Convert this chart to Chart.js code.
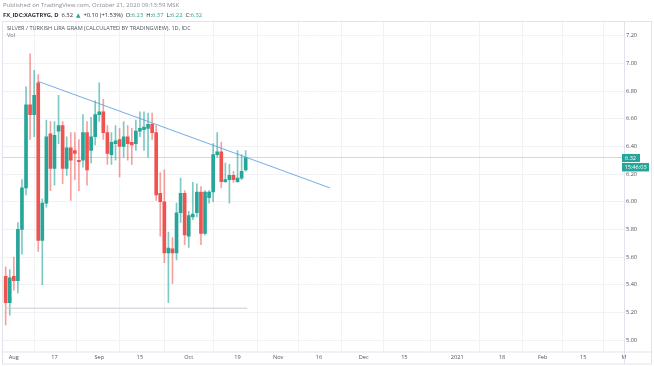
<!DOCTYPE html>
<html>
<head>
<meta charset="utf-8">
<script src="https://cdn.jsdelivr.net/npm/chart.js@4/dist/chart.umd.min.js"></script>
<style>
  html, body { margin: 0; padding: 0; background: #ffffff; }
  #wrap { width: 654px; height: 366px; position: relative; }
  canvas { display: block; }
</style>
</head>
<body>
<div id="wrap"><canvas id="c" width="654" height="366"></canvas></div>
<script>
// ---- DATA ----
// trading days, index 0..59
const dates = [
  '2020-07-30','2020-07-31',
  '2020-08-03','2020-08-04','2020-08-05','2020-08-06','2020-08-07',
  '2020-08-10','2020-08-11','2020-08-12','2020-08-13','2020-08-14',
  '2020-08-17','2020-08-18','2020-08-19','2020-08-20','2020-08-21',
  '2020-08-24','2020-08-25','2020-08-26','2020-08-27','2020-08-28',
  '2020-08-31','2020-09-01','2020-09-02','2020-09-03','2020-09-04',
  '2020-09-07','2020-09-08','2020-09-09','2020-09-10','2020-09-11',
  '2020-09-14','2020-09-15','2020-09-16','2020-09-17','2020-09-18',
  '2020-09-21','2020-09-22','2020-09-23','2020-09-24','2020-09-25',
  '2020-09-28','2020-09-29','2020-09-30','2020-10-01','2020-10-02',
  '2020-10-05','2020-10-06','2020-10-07','2020-10-08','2020-10-09',
  '2020-10-12','2020-10-13','2020-10-14','2020-10-15','2020-10-16',
  '2020-10-19','2020-10-20','2020-10-21'
];
const opens  = [5.46,5.27,5.46,5.43,5.80,6.10,6.70,6.63,6.86,5.72,
                5.99,6.49,6.24,6.51,6.55,6.24,6.39,6.37,6.30,6.30,
                6.50,6.37,6.47,6.63,6.65,6.50,6.34,6.42,6.45,6.40,
                6.47,6.43,6.42,6.51,6.52,6.53,6.56,6.50,6.06,6.00,
                5.63,5.66,5.63,5.92,6.06,5.75,5.89,5.92,6.07,5.77,
                6.03,6.07,6.34,6.36,6.145,6.16,6.19,6.145,6.17,6.23];
const highs  = [5.53,5.51,5.60,5.85,6.16,6.83,7.07,6.95,6.92,6.02,
                6.59,6.58,6.58,6.77,6.58,6.47,6.50,6.50,6.45,6.63,
                6.58,6.61,6.73,6.86,6.74,6.55,6.50,6.55,6.53,6.58,
                6.55,6.53,6.59,6.65,6.65,6.64,6.64,6.55,6.21,6.23,
                5.78,5.74,5.99,6.17,6.08,5.93,6.14,6.13,6.11,6.08,
                6.08,6.42,6.50,6.43,6.28,6.27,6.22,6.37,6.34,6.37];
const lows   = [5.11,5.18,5.36,5.34,5.62,6.05,6.45,6.47,5.64,5.40,
                5.96,6.08,6.12,6.42,6.13,6.19,6.01,6.16,6.08,6.25,
                6.12,6.28,6.41,6.58,6.45,6.27,6.27,6.30,6.18,6.32,
                6.30,6.27,6.37,6.47,6.37,6.32,6.45,6.01,5.75,5.56,
                5.27,5.41,5.58,5.85,5.69,5.67,5.87,5.89,5.69,5.76,
                5.99,6.00,6.32,6.10,6.14,5.99,6.14,6.14,6.16,6.22];
const closes = [5.27,5.45,5.43,5.80,6.10,6.70,6.63,6.77,5.72,5.99,
                6.47,6.24,6.48,6.55,6.24,6.39,6.30,6.35,6.29,6.50,
                6.23,6.47,6.63,6.65,6.50,6.35,6.43,6.44,6.40,6.47,
                6.42,6.41,6.51,6.53,6.54,6.56,6.50,6.05,6.00,5.63,
                5.665,5.63,5.92,6.06,5.76,5.90,5.91,6.07,5.77,6.07,
                6.07,6.34,6.36,6.145,6.16,6.19,6.16,6.17,6.22,6.32];

// drawings (bar index, price)
const trendLine   = [{x: 8, y: 6.87}, {x: 79.7, y: 6.10}];
const supportLine = [{x: -0.1, y: 5.23}, {x: 59.4, y: 5.23}];

// axis ticks
const xTickIndex  = [2, 12, 23, 33, 45, 57, 67, 77, 88, 98, 111, 122, 132, 142, 152];
const xTickLabels = ['Aug','17','Sep','15','Oct','19','Nov','16','Dec','15','2021','18','Feb','15','M'];
const yTickValues = [5.00,5.20,5.40,5.60,5.80,6.00,6.20,6.40,6.60,6.80,7.00,7.20];
const yTickLabels = ['5.00','5.20','5.40','5.60','5.80','6.00','6.20','6.40','6.60','6.80','7.00','7.20'];

// header texts
const publishedText = 'Published on TradingView.com, October 21, 2020 09:13:59 MSK';
const symbolText = 'FX_IDC:XAGTRYG, D';
const changeText = '+0.10 (+1.53%)';
const titleText = 'SILVER / TURKISH LIRA GRAM (CALCULATED BY TRADINGVIEW), 1D, IDC';
const volText = 'Vol';
const countdownText = '15:46:03';

// ---- STYLE ----
const UP = '#26a69a', DOWN = '#ef5350';
const UP_W = 'rgba(38,166,154,0.6)', DOWN_W = 'rgba(239,83,80,0.55)';
const FONT = '"Open Sans", "DejaVu Sans", sans-serif';
const last = closes.length - 1;

const isUp = i => closes[i] >= opens[i];

const overlay = {
  id: 'overlay',
  beforeDatasetsDraw(chart) {
    const {ctx, chartArea: a, scales: {y}} = chart;
    const py = Math.round(y.getPixelForValue(closes[last])) + 0.5;
    ctx.save();
    ctx.strokeStyle = 'rgba(38,166,154,0.3)';
    ctx.lineWidth = 1;
    ctx.beginPath(); ctx.moveTo(a.left, py); ctx.lineTo(a.right, py); ctx.stroke();
    ctx.restore();
  },
  afterDraw(chart) {
    const {ctx, chartArea: a, scales: {y}} = chart;
    ctx.save();
    // frame
    ctx.strokeStyle = '#e0e3eb';
    ctx.lineWidth = 1;
    ctx.strokeRect(2.5, 21.5, 649, 342.5);
    ctx.beginPath();
    ctx.moveTo(a.right + 0.5, 21.5); ctx.lineTo(a.right + 0.5, 364);
    ctx.moveTo(2.5, a.bottom + 0.5); ctx.lineTo(651.5, a.bottom + 0.5);
    ctx.stroke();

    // header line 1
    ctx.textBaseline = 'middle';
    ctx.textAlign = 'left';
    ctx.fillStyle = '#8a8d96';
    ctx.font = '6px ' + FONT;
    ctx.fillText(publishedText, 3, 5.5);

    // header line 2
    let x = 3; const yy = 15;
    ctx.font = 'bold 5.8px ' + FONT;
    ctx.fillStyle = '#2a2e39';
    ctx.fillText(symbolText, x, yy); x += ctx.measureText(symbolText).width + 3;
    ctx.font = '5.8px ' + FONT;
    const cs = closes[last].toFixed(2);
    ctx.fillText(cs, x, yy); x += ctx.measureText(cs).width + 3;
    ctx.fillStyle = UP;
    ctx.fillText('\u25B2', x, yy); x += ctx.measureText('\u25B2').width + 3;
    ctx.fillStyle = '#2a2e39';
    ctx.fillText(changeText, x, yy); x += ctx.measureText(changeText).width + 3;
    const ohlc = [['O:', opens[last]], ['H:', highs[last]], ['L:', lows[last]], ['C:', closes[last]]];
    for (const [k, v] of ohlc) {
      ctx.fillStyle = '#2a2e39';
      ctx.fillText(k, x, yy); x += ctx.measureText(k).width;
      ctx.fillStyle = UP;
      const t = v.toFixed(2);
      ctx.fillText(t, x, yy); x += ctx.measureText(t).width + 3;
    }

    // legend
    ctx.fillStyle = '#4c525e';
    ctx.font = '5.6px ' + FONT;
    ctx.fillText(titleText, 7, 28);
    ctx.fillStyle = '#6a6d78';
    ctx.fillText(volText, 7, 35);

    // price labels
    const py = y.getPixelForValue(closes[last]);
    ctx.fillStyle = UP;
    ctx.fillRect(622, py - 3.5, 18, 8);
    ctx.fillRect(622, py + 5.5, 27, 8.5);
    ctx.fillStyle = '#ffffff';
    ctx.font = '5.6px ' + FONT;
    ctx.fillText(closes[last].toFixed(2), 625, py + 0.5);
    ctx.fillText(countdownText, 624.5, py + 9.8);
    ctx.restore();
  }
};

new Chart(document.getElementById('c'), {
  type: 'bar',
  data: {
    datasets: [
      {
        type: 'line', label: 'Trend line', data: trendLine,
        borderColor: 'rgba(90,160,225,0.85)', borderWidth: 1,
        pointRadius: 0, order: 0
      },
      {
        type: 'line', label: 'Support', data: supportLine,
        borderColor: '#c9cbd1', borderWidth: 1,
        pointRadius: 0, order: 0
      },
      {
        label: 'Wick',
        data: dates.map((d, i) => ({x: i, y: [lows[i], highs[i]]})),
        barThickness: 1, grouped: false, order: 3,
        backgroundColor: c => isUp(c.dataIndex) ? UP_W : DOWN_W
      },
      {
        label: 'Body',
        data: dates.map((d, i) => ({x: i, y: [opens[i], closes[i]]})),
        barThickness: 3, grouped: false, minBarLength: 1, order: 2,
        backgroundColor: c => isUp(c.dataIndex) ? UP : DOWN
      }
    ]
  },
  options: {
    responsive: false,
    animation: false,
    devicePixelRatio: 1,
    layout: { padding: { left: 3, top: 21.5, right: 2, bottom: 1.5 } },
    plugins: { legend: { display: false }, tooltip: { enabled: false } },
    scales: {
      x: {
        type: 'linear', min: -0.66, max: 152, offset: false,
        afterBuildTicks: ax => { ax.ticks = xTickIndex.map(v => ({value: v})); },
        afterFit: ax => { ax.height = 13; },
        ticks: {
          autoSkip: false, maxRotation: 0, padding: 3,
          color: '#50535e', font: { size: 5.6, family: FONT },
          callback: (v, i) => xTickLabels[i]
        },
        grid: { color: '#f0f2f6', drawTicks: false },
        border: { display: false }
      },
      y: {
        position: 'right', min: 4.917, max: 7.303,
        afterBuildTicks: ax => { ax.ticks = yTickValues.map(v => ({value: v})); },
        afterFit: ax => { ax.width = 28; },
        ticks: {
          padding: 2, color: '#50535e', font: { size: 5.6, family: FONT },
          callback: (v, i) => yTickLabels[i]
        },
        grid: { color: '#f0f2f6', drawTicks: false },
        border: { display: false }
      }
    }
  },
  plugins: [overlay]
});
</script>
</body>
</html>
